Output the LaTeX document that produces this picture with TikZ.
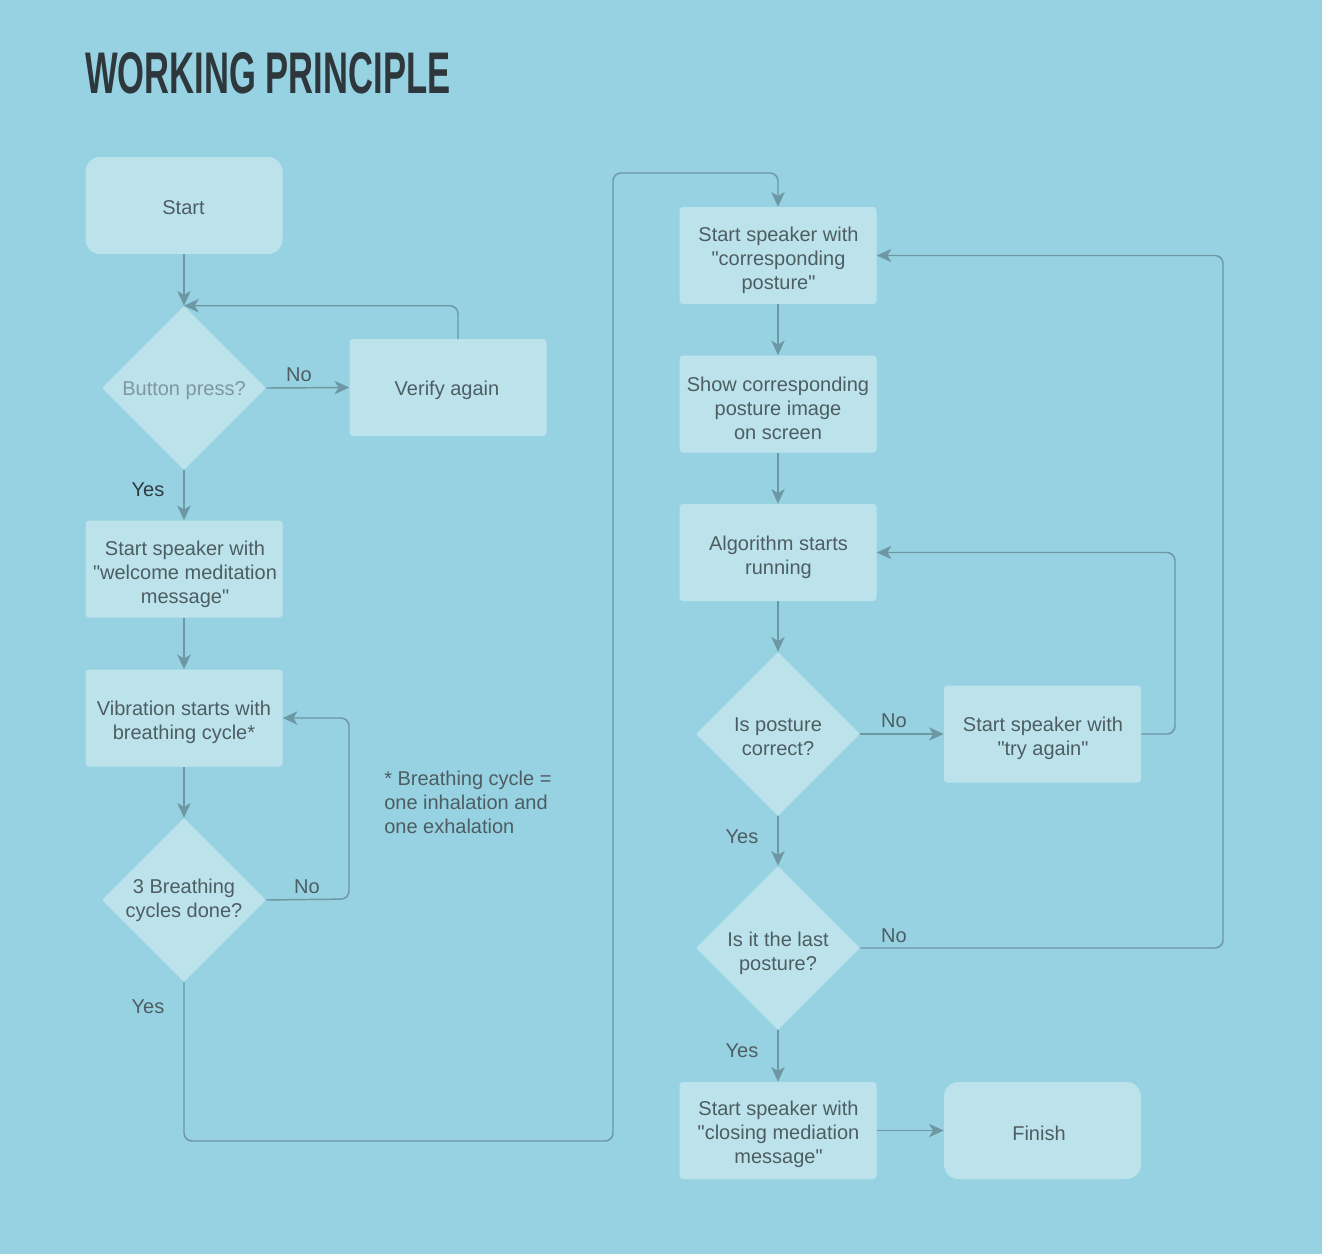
\documentclass[tikz,border=0pt]{standalone}
\usepackage{fontspec}
\setmainfont{Liberation Sans}
\newfontfamily\titlefont{Liberation Sans}
\usetikzlibrary{shapes.geometric,arrows.meta,calc}
\definecolor{bgc}{HTML}{97D2E2}
\definecolor{boxc}{HTML}{BCE3EC}
\definecolor{linec}{HTML}{6D97A2}
\definecolor{txtc}{HTML}{4D5D62}
\definecolor{darkc}{HTML}{2E3A3E}
\definecolor{greyc}{HTML}{7F979D}
\definecolor{titlec}{HTML}{2E373B}
\newcommand\qq{\textquotedbl}
\tikzset{
  fnt/.style={font=\fontsize{15pt}{18pt}\selectfont},
  stepbox/.style={rectangle, fill=boxc, rounded corners=2.5pt, minimum width=147.75pt, minimum height=72.75pt, inner sep=0pt},
  termbox/.style={stepbox, rounded corners=11pt},
  decide/.style={diamond, fill=boxc, minimum width=123pt, minimum height=123pt, inner sep=0pt, aspect=1, rounded corners=1.5pt},
  dtext/.style={align=center, text=txtc, fnt, inner sep=0pt},
  lbl/.style={text=txtc, fnt, inner sep=0pt},
  conn/.style={draw=linec, line width=1.1pt, rounded corners=6pt, -{Stealth[length=11pt,width=10pt,inset=3pt]}},
}
\begin{document}
\begin{tikzpicture}[x=0.75pt,y=-0.75pt]
\fill[bgc] (0,0) rectangle (1322,1254);
\useasboundingbox (0,0) rectangle (1322,1254);

\node[anchor=north west, inner sep=0pt, text=titlec] (title) at (85,52) {\resizebox{273.75pt}{30.75pt}{\titlefont\bfseries WORKING PRINCIPLE}};

% left column
\node[termbox] (start) at (184,205.5) {};
\node[dtext] (startt) at (183.5,208) {Start};
\node[decide] (d1) at (184,388) {};
\node[dtext, text=greyc] (d1t) at (184,391) {Button press?};
\node[stepbox] (va) at (448,387.5) {};
\node[dtext] (vat) at (447,390.5) {Verify again};
\node[stepbox] (wel) at (184,569) {};
\node[dtext] (welt) at (185,574) {Start speaker with\\\qq welcome meditation\\message\qq};
\node[stepbox] (vib) at (184,718) {};
\node[dtext] (vibt) at (184,722) {Vibration starts with\\breathing cycle*};
\node[decide] (d3) at (184,900) {};
\node[dtext] (d3t) at (184,900) {3 Breathing\\cycles done?};
\node[anchor=north west, align=left, text=txtc, fnt, inner sep=0pt] (note) at (384,771) {* Breathing cycle =\\one inhalation and\\one exhalation};

% right column
\node[stepbox] (sc) at (778,255.5) {};
\node[dtext] (sct) at (778.5,260.5) {Start speaker with\\\qq corresponding\\posture\qq};
\node[stepbox] (show) at (778,404) {};
\node[dtext] (showt) at (778,408) {Show corresponding\\posture image\\on screen};
\node[stepbox] (alg) at (778,552.5) {};
\node[dtext] (algt) at (778.5,557) {Algorithm starts\\running};
\node[decide] (dp) at (778,734) {};
\node[dtext] (dpt) at (778,736.5) {Is posture\\correct?};
\node[stepbox] (ta) at (1042.5,734) {};
\node[dtext] (tat) at (1043,738) {Start speaker with\\\qq try again\qq};
\node[decide] (dl) at (778,948) {};
\node[dtext] (dlt) at (778,953) {Is it the last\\posture?};
\node[stepbox] (close) at (778,1130.5) {};
\node[dtext] (closet) at (778.5,1134) {Start speaker with\\\qq closing mediation\\message\qq};
\node[termbox] (fin) at (1042.5,1130.5) {};
\node[dtext] (fint) at (1039,1133) {Finish};

% labels
\node[lbl] (l1) at (299,375) {No};
\node[lbl, text=darkc] (l2) at (148,490) {Yes};
\node[lbl] (l3) at (307,887) {No};
\node[lbl] (l4) at (148,1007) {Yes};
\node[lbl] (l5) at (894,721) {No};
\node[lbl] (l6) at (742,837) {Yes};
\node[lbl] (l7) at (894,936) {No};
\node[lbl] (l8) at (742,1051) {Yes};

% coordinates
\coordinate (vaTop) at (458,339);
\coordinate (c3) at (349,899);
\coordinate (c4a) at (184,1141);
\coordinate (c4b) at (613,1141);
\coordinate (c4c) at (613,173);
\coordinate (c4d) at (778,173);
\coordinate (c5) at (1175,734);
\coordinate (c6) at (1223,948);

% connectors
\draw[conn] (start) -- (d1.north);
\draw[conn] (vaTop) |- (d1.north);
\draw[conn] (d1.east) -- (va.west);
\draw[conn] (d1.south) -- (wel.north);
\draw[conn] (wel) -- (vib);
\draw[conn] (vib) -- (d3.north);
\draw[conn] (d3.east) -- (c3) |- (vib.east);
\draw[conn] (d3.south) -- (c4a) -- (c4b) -- (c4c) -- (c4d) -- (sc.north);
\draw[conn] (sc) -- (show);
\draw[conn] (show) -- (alg);
\draw[conn] (alg.south) -- (dp.north);
\draw[conn] (dp.east) -- (ta.west);
\draw[conn] (ta.east) -- (c5) |- (alg.east);
\draw[conn] (dp.south) -- (dl.north);
\draw[conn] (dl.east) -- (c6) |- (sc.east);
\draw[conn] (dl.south) -- (close.north);
\draw[conn] (close) -- (fin);
\end{tikzpicture}
\end{document}
